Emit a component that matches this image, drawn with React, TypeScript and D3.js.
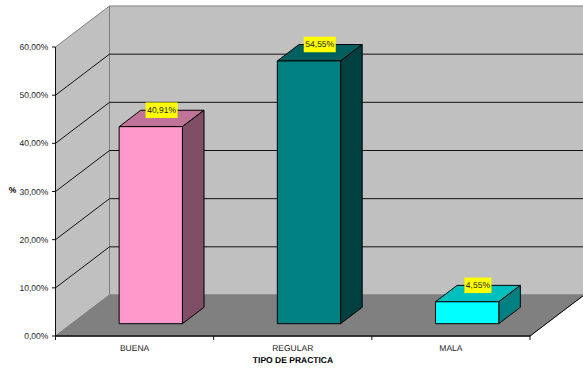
import React from "react";
import * as d3 from "d3";

// Survey results by type of practice
const categories = ["BUENA", "REGULAR", "MALA"];
const percentages = [40.91, 54.55, 4.55];
const valueLabels = ["40,91%", "54,55%", "4,55%"];
const faceColors = ["#FF99CC", "#008080", "#00FFFF"];
const topColors = ["#BF7399", "#006060", "#00BFBF"];
const sideColors = ["#804D66", "#004040", "#008080"];
const yTicks = [0, 10, 20, 30, 40, 50, 60];
const yTickLabels = ["0,00%", "10,00%", "20,00%", "30,00%", "40,00%", "50,00%", "60,00%"];

const WIDTH = 583;
const HEIGHT = 371;
const FONT = "'Liberation Sans', Arial, sans-serif";
const TEXT_SIZE = 8.5;
const TEXT_COLOR = "#1a1a1a";

// Oblique projection: depth runs back and to the right from the front plane
const DEPTH_X = 54;
const DEPTH_Y = -41;
const BAR_NEAR = 0.3;
const BAR_FAR = 0.7;

const y = d3.scaleLinear().domain([0, 60]).range([336, 47]);
const x = d3.scaleBand<string>().domain(categories).range([55.5, 530]).paddingInner(0.6).paddingOuter(0.3);

const project = (px: number, value: number, d: number): [number, number] => [
  px + DEPTH_X * d,
  y(value) + DEPTH_Y * d,
];

const poly = (pts: [number, number][]) => pts.map((p) => p.join(",")).join(" ");

export default function App() {
  const left = 55.5;
  const right = 530;
  const tickEdges = [0, 1, 2, 3].map((i) => left + (i * (right - left)) / 3);

  return (
    <svg
      width={WIDTH}
      height={HEIGHT}
      viewBox={`0 0 ${WIDTH} ${HEIGHT}`}
      textRendering="geometricPrecision"
      style={{ position: "absolute", left: 0, top: 0, background: "#fff", fontFamily: FONT }}
    >
      {/* left wall */}
      <polygon
        points={poly([project(left, 0, 0), project(left, 0, 1), project(left, 60, 1), project(left, 60, 0)])}
        fill="#C0C0C0"
        stroke="#808080"
      />
      {/* back wall */}
      <polygon
        points={poly([project(left, 0, 1), project(right, 0, 1), project(right, 60, 1), project(left, 60, 1)])}
        fill="#C0C0C0"
        stroke="#808080"
      />
      {/* floor */}
      <polygon
        points={poly([project(left, 0, 0), project(right, 0, 0), project(right, 0, 1), project(left, 0, 1)])}
        fill="#808080"
        stroke="#808080"
      />
      <line x1={right} y1={y(0)} x2={right + DEPTH_X} y2={y(0) + DEPTH_Y} stroke="#000" strokeWidth={1} />

      {/* gridlines along both walls */}
      {yTicks.slice(1, -1).map((t) => (
        <polyline
          key={t}
          points={poly([project(left, t, 0), project(left, t, 1), project(right, t, 1)])}
          fill="none"
          stroke="#111"
          strokeWidth={1}
        />
      ))}

      {/* axis lines and ticks */}
      <line x1={left} y1={y(0)} x2={left} y2={y(60)} stroke="#111" />
      <line x1={left} y1={y(0)} x2={right} y2={y(0)} stroke="#111" strokeWidth={1.3} />
      {yTicks.map((t, i) => (
        <g key={t}>
          <line x1={left - 3.5} x2={left} y1={y(t)} y2={y(t)} stroke="#111" />
          <text x={48.4} y={y(t) + 3} textAnchor="end" fontSize={TEXT_SIZE} fill={TEXT_COLOR}>
            {yTickLabels[i]}
          </text>
        </g>
      ))}
      {tickEdges.map((e) => (
        <line key={e} x1={e} x2={e} y1={y(0)} y2={y(0) + 4} stroke="#111" />
      ))}

      {/* 3D bars */}
      {categories.map((c, i) => {
        const x0 = x(c)!;
        const x1 = x0 + x.bandwidth();
        const v = percentages[i];
        const fbl = project(x0, 0, BAR_NEAR);
        const fbr = project(x1, 0, BAR_NEAR);
        const ftl = project(x0, v, BAR_NEAR);
        const ftr = project(x1, v, BAR_NEAR);
        const bbr = project(x1, 0, BAR_FAR);
        const btl = project(x0, v, BAR_FAR);
        const btr = project(x1, v, BAR_FAR);
        return (
          <g key={c} stroke="#000" strokeWidth={1} strokeLinejoin="miter">
            <polygon points={poly([ftl, ftr, btr, btl])} fill={topColors[i]} />
            <polygon points={poly([fbr, bbr, btr, ftr])} fill={sideColors[i]} />
            <polygon points={poly([fbl, fbr, ftr, ftl])} fill={faceColors[i]} />
          </g>
        );
      })}

      {/* value labels, centred on each bar's top face */}
      {categories.map((c, i) => {
        const cx = x(c)! + x.bandwidth() / 2;
        const [px, py] = project(cx, percentages[i], (BAR_NEAR + BAR_FAR) / 2);
        const w = valueLabels[i].length > 5 ? 32 : 27;
        return (
          <g key={c}>
            <rect x={px - w / 2} y={py - 16} width={w} height={15.5} fill="#FFFF00" />
            <text x={px} y={py - 5.5} textAnchor="middle" fontSize={TEXT_SIZE} fill={TEXT_COLOR}>
              {valueLabels[i]}
            </text>
          </g>
        );
      })}

      {/* category labels and axis titles */}
      {categories.map((c) => (
        <text
          key={c}
          x={x(c)! + x.bandwidth() / 2}
          y={351}
          textAnchor="middle"
          fontSize={TEXT_SIZE}
          fill={TEXT_COLOR}
        >
          {c}
        </text>
      ))}
      <text x={293} y={363} textAnchor="middle" fontSize={TEXT_SIZE} fontWeight="bold" fill="#000">
        TIPO DE PRACTICA
      </text>
      <text x={12.5} y={193} textAnchor="middle" fontSize={TEXT_SIZE} fontWeight="bold" fill="#000">
        %
      </text>
    </svg>
  );
}
